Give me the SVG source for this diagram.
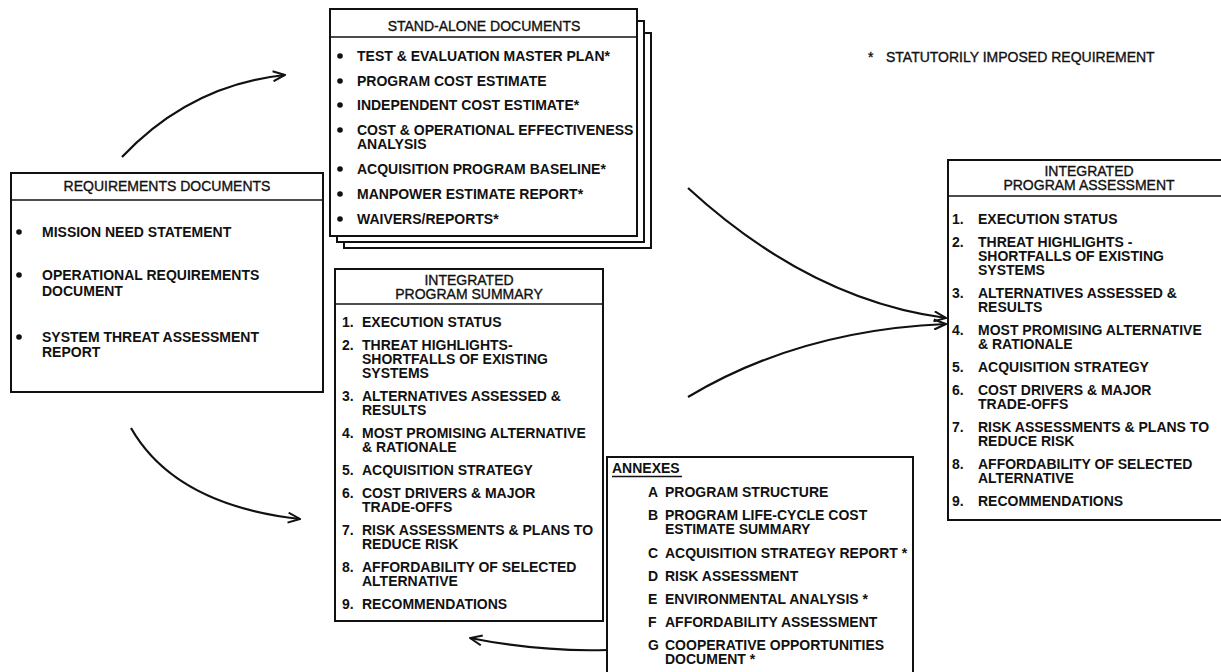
<svg xmlns="http://www.w3.org/2000/svg" width="1221" height="672" viewBox="0 0 1221 672">
  <style>
    .box{fill:#fff;stroke:#111;stroke-width:2}
    .rule{stroke:#111;stroke-width:1.6}
    .t{font-family:"Liberation Sans",Arial,sans-serif;font-size:14px;font-weight:bold;fill:#111}
    .h{font-family:"Liberation Sans",Arial,sans-serif;font-size:14px;font-weight:normal;fill:#111;stroke:#111;stroke-width:0.35}
    .mid{text-anchor:middle}
    .dot{fill:#111}
    .conn{fill:none;stroke:#111;stroke-width:2.2;marker-end:url(#arr)}
  </style>
  <defs>
    <marker id="arr" viewBox="0 0 14 12" refX="13" refY="6" markerWidth="14" markerHeight="12" markerUnits="userSpaceOnUse" orient="auto">
      <path d="M1,1 L13,6 L1,11" fill="none" stroke="#111" stroke-width="2"/>
    </marker>
  </defs>
  <rect width="1221" height="672" fill="#fff"/>

  <!-- Requirements documents -->
  <g id="requirements">
    <rect class="box" x="11" y="173" width="312" height="219"/>
    <line class="rule" x1="11" y1="200" x2="323" y2="200"/>
    <text class="h mid" x="167" y="191">REQUIREMENTS DOCUMENTS</text>
    <circle class="dot" cx="19" cy="232" r="2.8"/>
    <circle class="dot" cx="19" cy="275" r="2.8"/>
    <circle class="dot" cx="19" cy="337" r="2.8"/>
    <text class="t" x="42" y="237">MISSION NEED STATEMENT</text>
    <text class="t" x="42" y="280">OPERATIONAL REQUIREMENTS</text>
    <text class="t" x="42" y="296">DOCUMENT</text>
    <text class="t" x="42" y="342">SYSTEM THREAT ASSESSMENT</text>
    <text class="t" x="42" y="357">REPORT</text>
  </g>

  <!-- Stand-alone documents (stacked sheets) -->
  <g id="standalone">
    <rect class="box" x="344" y="33" width="307" height="215"/>
    <rect class="box" x="337" y="21" width="307" height="221"/>
    <rect class="box" x="330" y="9" width="307" height="227"/>
    <line class="rule" x1="330" y1="37" x2="637" y2="37"/>
    <text class="h mid" x="484" y="31">STAND-ALONE DOCUMENTS</text>
    <circle class="dot" cx="340" cy="56" r="2.8"/>
    <circle class="dot" cx="340" cy="81" r="2.8"/>
    <circle class="dot" cx="340" cy="105" r="2.8"/>
    <circle class="dot" cx="340" cy="130" r="2.8"/>
    <circle class="dot" cx="340" cy="169" r="2.8"/>
    <circle class="dot" cx="340" cy="194" r="2.8"/>
    <circle class="dot" cx="340" cy="219" r="2.8"/>
    <text class="t" x="357" y="61">TEST &amp; EVALUATION MASTER PLAN*</text>
    <text class="t" x="357" y="86">PROGRAM COST ESTIMATE</text>
    <text class="t" x="357" y="110">INDEPENDENT COST ESTIMATE*</text>
    <text class="t" x="357" y="135">COST &amp; OPERATIONAL EFFECTIVENESS</text>
    <text class="t" x="357" y="149">ANALYSIS</text>
    <text class="t" x="357" y="174">ACQUISITION PROGRAM BASELINE*</text>
    <text class="t" x="357" y="199">MANPOWER ESTIMATE REPORT*</text>
    <text class="t" x="357" y="224">WAIVERS/REPORTS*</text>
  </g>

  <!-- Footnote -->
  <g id="note">
    <text class="h" x="868" y="62">*</text>
    <text class="h" x="886" y="62">STATUTORILY IMPOSED REQUIREMENT</text>
  </g>

  <!-- Integrated program summary -->
  <g id="summary">
    <rect class="box" x="335" y="269" width="268" height="352"/>
    <line class="rule" x1="335" y1="304" x2="603" y2="304"/>
    <text class="h mid" x="469" y="285">INTEGRATED</text>
    <text class="h mid" x="469" y="299">PROGRAM SUMMARY</text>
    <text class="t" x="342" y="327">1.</text><text class="t" x="362" y="327">EXECUTION STATUS</text>
    <text class="t" x="342" y="350">2.</text><text class="t" x="362" y="350">THREAT HIGHLIGHTS-</text>
    <text class="t" x="362" y="364">SHORTFALLS OF EXISTING</text>
    <text class="t" x="362" y="378">SYSTEMS</text>
    <text class="t" x="342" y="401">3.</text><text class="t" x="362" y="401">ALTERNATIVES ASSESSED &amp;</text>
    <text class="t" x="362" y="415">RESULTS</text>
    <text class="t" x="342" y="438">4.</text><text class="t" x="362" y="438">MOST PROMISING ALTERNATIVE</text>
    <text class="t" x="362" y="452">&amp; RATIONALE</text>
    <text class="t" x="342" y="475">5.</text><text class="t" x="362" y="475">ACQUISITION STRATEGY</text>
    <text class="t" x="342" y="498">6.</text><text class="t" x="362" y="498">COST DRIVERS &amp; MAJOR</text>
    <text class="t" x="362" y="512">TRADE-OFFS</text>
    <text class="t" x="342" y="535">7.</text><text class="t" x="362" y="535">RISK ASSESSMENTS &amp; PLANS TO</text>
    <text class="t" x="362" y="549">REDUCE RISK</text>
    <text class="t" x="342" y="572">8.</text><text class="t" x="362" y="572">AFFORDABILITY OF SELECTED</text>
    <text class="t" x="362" y="586">ALTERNATIVE</text>
    <text class="t" x="342" y="609">9.</text><text class="t" x="362" y="609">RECOMMENDATIONS</text>
  </g>

  <!-- Annexes -->
  <g id="annexes">
    <rect class="box" x="607" y="457" width="306" height="230"/>
    <text class="t" x="612" y="473">ANNEXES</text>
    <line x1="612" y1="476.5" x2="682" y2="476.5" stroke="#111" stroke-width="1.4"/>
    <text class="t" x="648" y="497">A</text><text class="t" x="665" y="497">PROGRAM STRUCTURE</text>
    <text class="t" x="648" y="520">B</text><text class="t" x="665" y="520">PROGRAM LIFE-CYCLE COST</text>
    <text class="t" x="665" y="534">ESTIMATE SUMMARY</text>
    <text class="t" x="648" y="558">C</text><text class="t" x="665" y="558">ACQUISITION STRATEGY REPORT *</text>
    <text class="t" x="648" y="581">D</text><text class="t" x="665" y="581">RISK ASSESSMENT</text>
    <text class="t" x="648" y="604">E</text><text class="t" x="665" y="604">ENVIRONMENTAL ANALYSIS *</text>
    <text class="t" x="648" y="627">F</text><text class="t" x="665" y="627">AFFORDABILITY ASSESSMENT</text>
    <text class="t" x="648" y="650">G</text><text class="t" x="665" y="650">COOPERATIVE OPPORTUNITIES</text>
    <text class="t" x="665" y="664">DOCUMENT *</text>
  </g>

  <!-- Integrated program assessment -->
  <g id="assessment">
    <rect class="box" x="948" y="160" width="290" height="360"/>
    <line class="rule" x1="948" y1="196" x2="1238" y2="196"/>
    <text class="h mid" x="1089" y="176">INTEGRATED</text>
    <text class="h mid" x="1089" y="190">PROGRAM ASSESSMENT</text>
    <text class="t" x="952" y="224">1.</text><text class="t" x="978" y="224">EXECUTION STATUS</text>
    <text class="t" x="952" y="247">2.</text><text class="t" x="978" y="247">THREAT HIGHLIGHTS -</text>
    <text class="t" x="978" y="261">SHORTFALLS OF EXISTING</text>
    <text class="t" x="978" y="275">SYSTEMS</text>
    <text class="t" x="952" y="298">3.</text><text class="t" x="978" y="298">ALTERNATIVES ASSESSED &amp;</text>
    <text class="t" x="978" y="312">RESULTS</text>
    <text class="t" x="952" y="335">4.</text><text class="t" x="978" y="335">MOST PROMISING ALTERNATIVE</text>
    <text class="t" x="978" y="349">&amp; RATIONALE</text>
    <text class="t" x="952" y="372">5.</text><text class="t" x="978" y="372">ACQUISITION STRATEGY</text>
    <text class="t" x="952" y="395">6.</text><text class="t" x="978" y="395">COST DRIVERS &amp; MAJOR</text>
    <text class="t" x="978" y="409">TRADE-OFFS</text>
    <text class="t" x="952" y="432">7.</text><text class="t" x="978" y="432">RISK ASSESSMENTS &amp; PLANS TO</text>
    <text class="t" x="978" y="446">REDUCE RISK</text>
    <text class="t" x="952" y="469">8.</text><text class="t" x="978" y="469">AFFORDABILITY OF SELECTED</text>
    <text class="t" x="978" y="483">ALTERNATIVE</text>
    <text class="t" x="952" y="506">9.</text><text class="t" x="978" y="506">RECOMMENDATIONS</text>
  </g>

  <!-- Flow arrows -->
  <g id="connectors">
    <path class="conn" d="M122,157 Q190,85 285,75"/>
    <path class="conn" d="M131,428 Q175,505 300,519"/>
    <path class="conn" d="M688,188 Q810,300 946,318"/>
    <path class="conn" d="M688,397 Q800,330 946,324"/>
    <path class="conn" d="M607,650 Q540,652 470,638"/>
  </g>
</svg>
